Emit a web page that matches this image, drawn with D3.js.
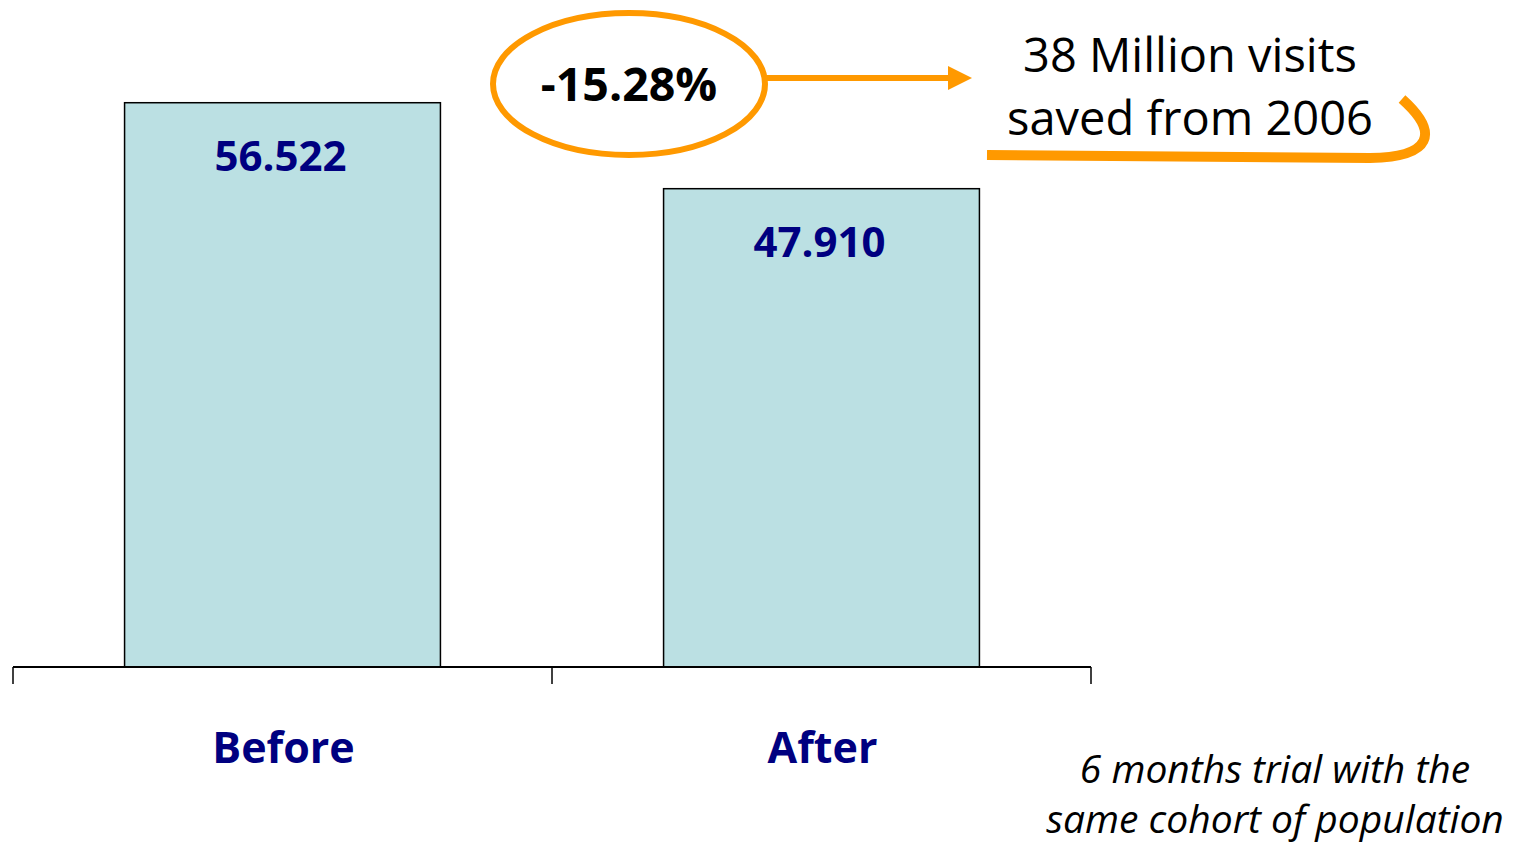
<!DOCTYPE html>
<html>
<head>
<meta charset="utf-8">
<script src="https://d3js.org/d3.v7.min.js"></script>
<style>
  body { margin: 0; background: #fff; }
  text { font-family: "Open Sans", sans-serif; }
</style>
</head>
<body>
<svg id="vis" width="1517" height="843"></svg>
<script>
// data
var categories = ["Before", "After"];
var values = [56.522, 47.910];
var valueLabels = ["56.522", "47.910"];
var changeLabel = "-15.28%";
var noteLines = ["38 Million visits", "saved from 2006"];
var footLines = ["6 months trial with the", "same cohort of population"];

var orange = "#ff9900";
var navy = "#000080";

var svg = d3.select("#vis");

// scales
var x = d3.scaleBand()
    .domain(categories)
    .range([13, 1091])
    .paddingInner(0)
    .paddingOuter(0);

var y = d3.scaleLinear()
    .domain([0, 60])
    .range([667, 68]);

var barW = x.bandwidth() * 0.586;

// bars
svg.selectAll("rect.bar")
  .data(values)
  .enter().append("rect")
    .attr("class", "bar")
    .attr("x", function(d, i) { return x(categories[i]) + (x.bandwidth() - barW) / 2; })
    .attr("y", function(d) { return y(d); })
    .attr("width", barW)
    .attr("height", function(d) { return y(0) - y(d); })
    .attr("fill", "#bbe0e3")
    .attr("stroke", "#000")
    .attr("stroke-width", 1.5);

// value labels inside bars
svg.selectAll("text.val")
  .data(values)
  .enter().append("text")
    .attr("class", "val")
    .attr("x", function(d, i) { return x(categories[i]) + x.bandwidth() / 2 - 2; })
    .attr("y", function(d) { return y(d) + 68; })
    .attr("text-anchor", "middle")
    .attr("font-weight", "bold")
    .attr("font-size", 42)
    .attr("fill", navy)
    .text(function(d, i) { return valueLabels[i]; });

// x axis: line with ticks at band edges
var axis = svg.append("g").attr("transform", "translate(0,667)");
axis.append("line")
    .attr("x1", x.range()[0]).attr("x2", x.range()[1])
    .attr("stroke", "#000").attr("stroke-width", 2);
var edges = categories.map(function(c) { return x(c); }).concat([x.range()[1]]);
axis.selectAll("line.tick")
  .data(edges)
  .enter().append("line")
    .attr("class", "tick")
    .attr("x1", function(d) { return d; }).attr("x2", function(d) { return d; })
    .attr("y1", 0).attr("y2", 17)
    .attr("stroke", "#000").attr("stroke-width", 1.5);

axis.selectAll("text.cat")
  .data(categories)
  .enter().append("text")
    .attr("class", "cat")
    .attr("x", function(d) { return x(d) + x.bandwidth() / 2 + 1; })
    .attr("y", 96)
    .attr("text-anchor", "middle")
    .attr("font-weight", "bold")
    .attr("font-size", 43)
    .attr("fill", navy)
    .text(function(d) { return d; });

// change callout
svg.append("ellipse")
    .attr("cx", 629).attr("cy", 84)
    .attr("rx", 136).attr("ry", 71)
    .attr("fill", "none")
    .attr("stroke", orange)
    .attr("stroke-width", 6);

svg.append("text")
    .attr("x", 629).attr("y", 101)
    .attr("text-anchor", "middle")
    .attr("font-weight", "bold")
    .attr("font-size", 46.5)
    .attr("fill", "#000")
    .text(changeLabel);

svg.append("line")
    .attr("x1", 767).attr("x2", 950)
    .attr("y1", 78).attr("y2", 78)
    .attr("stroke", orange)
    .attr("stroke-width", 6);
svg.append("path")
    .attr("d", "M948,66 L972,78 L948,90 Z")
    .attr("fill", orange);

svg.selectAll("text.note")
  .data(noteLines)
  .enter().append("text")
    .attr("class", "note")
    .attr("x", 1190)
    .attr("y", function(d, i) { return 72 + i * 63; })
    .attr("text-anchor", "middle")
    .attr("font-size", 47)
    .attr("fill", "#000")
    .text(function(d) { return d; });

svg.append("path")
    .attr("d", "M987,155 L1370,158 C1432,157 1440,133 1402,99")
    .attr("fill", "none")
    .attr("stroke", orange)
    .attr("stroke-width", 10);

svg.selectAll("text.foot")
  .data(footLines)
  .enter().append("text")
    .attr("class", "foot")
    .attr("x", 1275)
    .attr("y", function(d, i) { return 783 + i * 50; })
    .attr("text-anchor", "middle")
    .attr("font-style", "italic")
    .attr("font-size", 39)
    .attr("fill", "#000")
    .text(function(d) { return d; });
</script>
</body>
</html>
